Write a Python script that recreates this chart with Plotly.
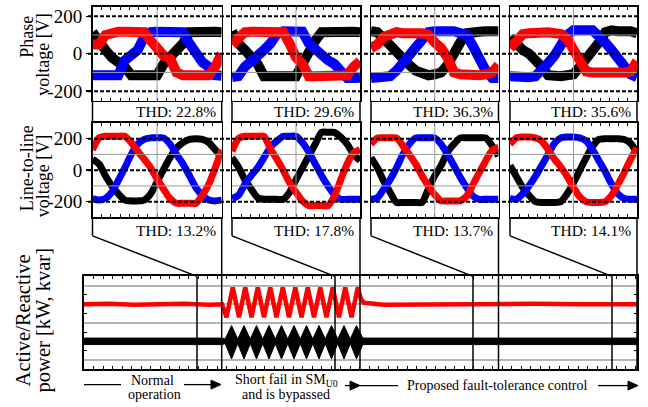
import plotly.graph_objects as go

W, H = 648, 407
def px(x): return x / W
def py(y): return 1 - y / H

FONT = "Liberation Serif"
RED, BLUE, BLACK = "#ff0000", "#0000ff", "#000000"

# ---------------- data ----------------
t_ms = list(range(21))  # time inside each zoomed window [ms]

# Phase voltages [V]  (columns 1..4)
ph1_red   = [50, 50, 100, 115, 118, 118, 115, 118, 115, 70, 20, -10, -25, -100, -115, -118, -118, -115, -115, -70, 0]
ph1_blue  = [-115, -118, -115, -118, -115, -35, -10, 20, 90, 115, 118, 118, 115, 118, 115, 55, 0, -45, -70, -115, -118]
ph1_black = [115, 55, 20, -20, -45, -70, -115, -118, -118, -115, -115, -55, -20, 20, 55, 115, 118, 118, 115, 118, 115]

ph2_red   = [50, 90, 115, 118, 118, 115, 118, 115, 115, 55, -20, -55, -120, -120, -118, -120, -120, -118, -115, -70, -40]
ph2_blue  = [-125, -120, -70, -45, -20, 20, 55, 105, 120, 118, 120, 118, 55, 20, -10, -35, -55, -90, -130, -130, -128]
ph2_black = [120, 55, 20, -10, -55, -120, -120, -118, -120, -118, -120, -55, 20, 70, 115, 118, 115, 118, 115, 118, 115]

ph3_red   = [30, 50, 90, 110, 115, 110, 115, 110, 110, 100, 60, 30, -20, -100, -110, -115, -110, -115, -110, -100, -60]
ph3_blue  = [-130, -130, -125, -120, -90, -50, -10, 40, 80, 115, 120, 125, 120, 120, 115, 100, 40, -30, -90, -130, -130]
ph3_black = [120, 115, 80, 40, 10, -30, -60, -90, -110, -115, -110, -100, -60, 10, 60, 110, 120, 118, 120, 115, 120]

ph4_red   = [30, 60, 105, 110, 115, 110, 115, 110, 105, 80, 20, -50, -95, -100, -105, -100, -100, -105, -100, -95, -40]
ph4_blue  = [-120, -125, -120, -125, -120, -90, -50, -10, 40, 100, 125, 130, 125, 125, 100, 60, 20, -20, -60, -110, -125]
ph4_black = [90, 50, 20, 0, -30, -70, -115, -120, -120, -115, -110, -70, -30, 10, 60, 115, 125, 120, 125, 120, 110]

# Line-to-line voltages [V]
ll1_red   = [130, 205, 215, 215, 215, 215, 175, 120, 70, 15, -55, -120, -180, -210, -210, -210, -210, -160, -90, 15, 130]
ll1_blue  = [-180, -190, -180, -140, -65, 15, 100, 165, 195, 205, 205, 205, 165, 100, 40, -35, -110, -160, -190, -195, -190]
ll1_black = [70, 40, -35, -100, -150, -190, -195, -195, -190, -150, -75, 5, 80, 140, 175, 195, 200, 195, 175, 130, 80]

ll2_red   = [120, 200, 215, 215, 215, 215, 135, 70, 0, -80, -140, -195, -225, -225, -225, -225, -165, -60, 40, 110, 130]
ll2_blue  = [-180, -160, -90, -35, 15, 80, 145, 185, 215, 215, 215, 175, 115, 40, -35, -100, -155, -185, -185, -185, -185]
ll2_black = [80, 20, -60, -120, -175, -185, -185, -185, -185, -140, -60, 15, 90, 165, 240, 240, 240, 210, 165, 100, 60]

ll3_red   = [165, 205, 205, 205, 205, 155, 100, 40, -35, -100, -155, -195, -195, -195, -195, -165, -90, -15, 60, 125, 145]
ll3_blue  = [-185, -175, -120, -60, 15, 100, 165, 205, 205, 205, 205, 165, 100, 30, -45, -110, -165, -185, -185, -185, -185]
ll3_black = [80, 15, -70, -140, -205, -205, -205, -205, -205, -120, -35, 30, 115, 165, 205, 205, 205, 205, 205, 155, 90]

ll4_red   = [165, 205, 210, 210, 205, 185, 130, 70, 20, -40, -110, -170, -200, -205, -205, -200, -160, -90, -15, 70, 140]
ll4_blue  = [-180, -185, -150, -100, -40, 30, 100, 170, 205, 210, 210, 205, 185, 130, 60, -10, -90, -150, -180, -185, -185]
ll4_black = [30, -40, -110, -160, -200, -205, -205, -205, -200, -150, -80, 0, 80, 150, 195, 200, 200, 200, 195, 170, 110]

thd_phase = ["22.8%", "29.6%", "36.3%", "35.6%"]
thd_line = ["13.2%", "17.8%", "13.7%", "14.1%"]

# Power traces (time in ms over whole record)
pw_red_t = [0, 20, 40, 60, 80, 100, 110.4, 114, 119, 124, 129, 134, 139, 144, 149, 154, 159, 164, 169,
            174, 179, 184, 189, 194, 199, 204, 209, 214, 219, 221.5, 224, 240, 280, 320, 360, 400, 442.4]
pw_red = [7.0, 7.05, 6.95, 7.0, 7.05, 6.95, 7.0, 5.6, 8.8, 5.6, 8.8, 5.6, 8.8, 5.6, 8.8, 5.6, 8.8, 5.6, 8.8,
          5.6, 8.8, 5.6, 8.8, 5.6, 8.8, 5.6, 8.8, 5.6, 8.8, 7.6, 7.15, 6.95, 7.0, 6.95, 7.05, 7.0, 7.0]

pw_blk_t = [0, 110.4, 113, 118, 123, 128, 133, 138, 143, 148, 153, 158, 163, 168, 173, 178, 183, 188,
            193, 198, 203, 208, 213, 218, 223, 442.4]
pw_blk_hi = [3.35, 3.35, 3.25, 4.7, 3.25, 4.7, 3.25, 4.7, 3.25, 4.7, 3.25, 4.7, 3.25, 4.7, 3.25, 4.7, 3.25, 4.7,
             3.25, 4.7, 3.25, 4.7, 3.25, 4.7, 3.35, 3.35]
pw_blk_lo = [2.65, 2.65, 2.75, 1.1, 2.75, 1.1, 2.75, 1.1, 2.75, 1.1, 2.75, 1.1, 2.75, 1.1, 2.75, 1.1, 2.75, 1.1,
             2.75, 1.1, 2.75, 1.1, 2.75, 1.1, 2.65, 2.65]

window_start_ms = [90.4, 200.8, 311.2, 422.4]
pw_range = [0, 442.4]

# ---------------- geometry ----------------
col_left = [92.5, 232, 371, 510]
col_right = [221.7, 360, 498.5, 637]
row1 = (6, 100)
row2 = (122.5, 217.5)
PW_X0, PW_X1, PW_Y0, PW_Y1 = 84, 637, 276.7, 370

phase_sets = [(ph1_black, ph1_blue, ph1_red), (ph2_black, ph2_blue, ph2_red),
              (ph3_black, ph3_blue, ph3_red), (ph4_black, ph4_blue, ph4_red)]
line_sets = [(ll1_black, ll1_blue, ll1_red), (ll2_black, ll2_blue, ll2_red),
             (ll3_black, ll3_blue, ll3_red), (ll4_black, ll4_blue, ll4_red)]

fig = go.Figure()
layout = {}
shapes = []
annotations = []

def axname(n):
    return ("xaxis" if n == 1 else f"xaxis{n}"), ("yaxis" if n == 1 else f"yaxis{n}")

for row, (sets, (ytop, ybot), yr, lw) in enumerate([(phase_sets, row1, [-250, 250], 10),
                                                      (line_sets, row2, [-300, 300], 7)]):
    for c in range(4):
        n = row * 4 + c + 1
        xs, ys = ("x" if n == 1 else f"x{n}"), ("y" if n == 1 else f"y{n}")
        for arr, col in zip(sets[c], (BLACK, BLUE, RED)):
            fig.add_trace(go.Scatter(x=t_ms, y=arr, xaxis=xs, yaxis=ys, mode="lines",
                                     line=dict(color=col, width=lw,
                                               shape="linear" if row == 0 else "spline",
                                               smoothing=0.6),
                                     showlegend=False, hoverinfo="skip"))
        xa, ya = axname(n)
        layout[xa] = dict(domain=[px(col_left[c]), px(col_right[c])], range=[0, 20], anchor=ys,
                          showticklabels=False, ticks="inside", ticklen=3, tick0=0, dtick=20 / 14,
                          tickcolor="black", mirror="ticks", showline=True, linecolor="black",
                          linewidth=1.5, showgrid=False, zeroline=False)
        yd = dict(domain=[py(ybot), py(ytop)], range=yr, anchor=xs, showline=True, mirror=True,
                  linecolor="black", linewidth=1.5, showgrid=False, zeroline=False)
        if c == 0:
            yd.update(tickvals=[-200, 0, 200], ticktext=["-200", "0", "200"], ticks="outside",
                      ticklen=5, tickcolor="black", tickwidth=1.5,
                      tickfont=dict(family=FONT, size=19, color="black"))
        else:
            yd.update(showticklabels=False, ticks="")
        layout[ya] = yd
        # gray grid (above traces)
        for v in (-100, 100):
            shapes.append(dict(type="line", xref=f"{xs} domain", x0=0, x1=1, yref=ys, y0=v, y1=v,
                               line=dict(color="#9a9a9a", width=1)))
        shapes.append(dict(type="line", xref=xs, x0=10, x1=10, yref=f"{ys} domain", y0=0, y1=1,
                           line=dict(color="#9a9a9a", width=1)))
    # dashed reference lines across the row
    ys1 = "y" if row == 0 else "y5"
    for v in (-200, 0, 200):
        shapes.append(dict(type="line", xref="paper", x0=px(88), x1=px(637), yref=ys1, y0=v, y1=v,
                           line=dict(color="black", width=2, dash="4px,2px")))

# THD labels and column frames
for c in range(4):
    annotations.append(dict(text=f"THD: {thd_phase[c]}", x=px(col_right[c] - 4), y=py(111),
                            xref="paper", yref="paper", xanchor="right", yanchor="middle",
                            showarrow=False, font=dict(family=FONT, size=15.5, color="black")))
    annotations.append(dict(text=f"THD: {thd_line[c]}", x=px(col_right[c] - 4), y=py(231),
                            xref="paper", yref="paper", xanchor="right", yanchor="middle",
                            showarrow=False, font=dict(family=FONT, size=15.5, color="black")))
    L, R = col_left[c], col_right[c]
    wpx = PW_X0 + (window_start_ms[c] - pw_range[0]) / (pw_range[1] - pw_range[0]) * (PW_X1 - PW_X0)
    segs = [((L, row1[1]), (L, row2[0])), ((R, row1[1]), (R, row2[0])),
            ((L, row2[1]), (L, 236)), ((L, 236), (wpx, PW_Y0)),
            ((R, row2[1]), (R, PW_Y1)), ((wpx, PW_Y0), (wpx, PW_Y1))]
    for (a, b) in segs:
        shapes.append(dict(type="line", xref="paper", yref="paper", x0=px(a[0]), y0=py(a[1]),
                           x1=px(b[0]), y1=py(b[1]), line=dict(color="black", width=1.5)))

# power panel
fig.add_trace(go.Scatter(x=pw_blk_t + pw_blk_t[::-1], y=pw_blk_hi + pw_blk_lo[::-1], xaxis="x9",
                         yaxis="y9", mode="lines", fill="toself", fillcolor=BLACK,
                         line=dict(color=BLACK, width=1), showlegend=False, hoverinfo="skip"))
fig.add_trace(go.Scatter(x=pw_red_t, y=pw_red, xaxis="x9", yaxis="y9", mode="lines",
                         line=dict(color=RED, width=4.5), showlegend=False, hoverinfo="skip"))
layout["xaxis9"] = dict(domain=[px(PW_X0), px(PW_X1)], range=pw_range, anchor="y9",
                        showticklabels=False, ticks="inside", ticklen=3, tick0=0, dtick=7.6,
                        tickcolor="black", mirror="ticks", showline=True, linecolor="black",
                        linewidth=2, showgrid=False, zeroline=False)
layout["yaxis9"] = dict(domain=[py(PW_Y1), py(PW_Y0)], range=[0, 10], anchor="x9",
                        tickvals=[1, 3, 5, 7, 9], showticklabels=False, ticks="",
                        showgrid=True, gridcolor="#b4b4b4", gridwidth=2,
                        minor=dict(tickvals=[2, 4, 6, 8], ticks="inside", ticklen=3,
                                   tickcolor="black", showgrid=False),
                        showline=True, mirror="ticks", linecolor="black", linewidth=2,
                        zeroline=False)

# axis titles
def txt(s, x, y, size, angle=0, anchor="center"):
    annotations.append(dict(text=s, x=px(x), y=py(y), xref="paper", yref="paper",
                            xanchor=anchor, yanchor="middle", textangle=angle, showarrow=False,
                            font=dict(family=FONT, size=size, color="black")))

txt("Phase", 27, 36, 18, -90)
txt("voltage [V]", 43, 54, 18, -90)
txt("Line-to-line", 27, 168, 18, -90)
txt("voltage [V]", 43, 176, 18, -90)
txt("Active/Reactive", 23, 321, 20.5, -90)
txt("power [kW, kvar]", 43, 321, 20.5, -90)

# bottom phase labels with arrows
txt("Normal", 152, 381.5, 14)
txt("operation", 154, 395.5, 14)
txt("Short fail in SM<sub>U0</sub>", 286, 381.5, 14)
txt("and is bypassed", 286, 395.5, 14)
txt("Proposed fault-tolerance control", 497, 386, 14)

def hline(x0, x1, y):
    shapes.append(dict(type="line", xref="paper", yref="paper", x0=px(x0), x1=px(x1), y0=py(y),
                       y1=py(y), line=dict(color="black", width=1.3)))

def head(tip, y):
    path = f"M {px(tip)} {py(y)} L {px(tip - 10)} {py(y - 4.5)} L {px(tip - 10)} {py(y + 4.5)} Z"
    shapes.append(dict(type="path", xref="paper", yref="paper", path=path,
                       fillcolor="black", line=dict(color="black", width=1)))

hline(84, 121, 385.5); hline(184, 212, 385.5); head(221, 385.5)
hline(345, 352, 386.5); head(360, 386.5)
hline(360, 398, 386.5); hline(598, 630, 386.5); head(638, 386.5)

layout.update(width=W, height=H, margin=dict(l=0, r=0, t=0, b=0), paper_bgcolor="white",
              plot_bgcolor="white", shapes=shapes, annotations=annotations, showlegend=False)
fig.update_layout(**layout)
fig.write_html("out.html", config={"displayModeBar": False, "staticPlot": True})

# remove default page margin so the figure sits at the window's top-left corner
with open("out.html", "r", encoding="utf-8") as f:
    html = f.read()
html = html.replace("<head>", "<head><style>html,body{margin:0;padding:0;overflow:hidden;}</style>", 1)
with open("out.html", "w", encoding="utf-8") as f:
    f.write(html)
